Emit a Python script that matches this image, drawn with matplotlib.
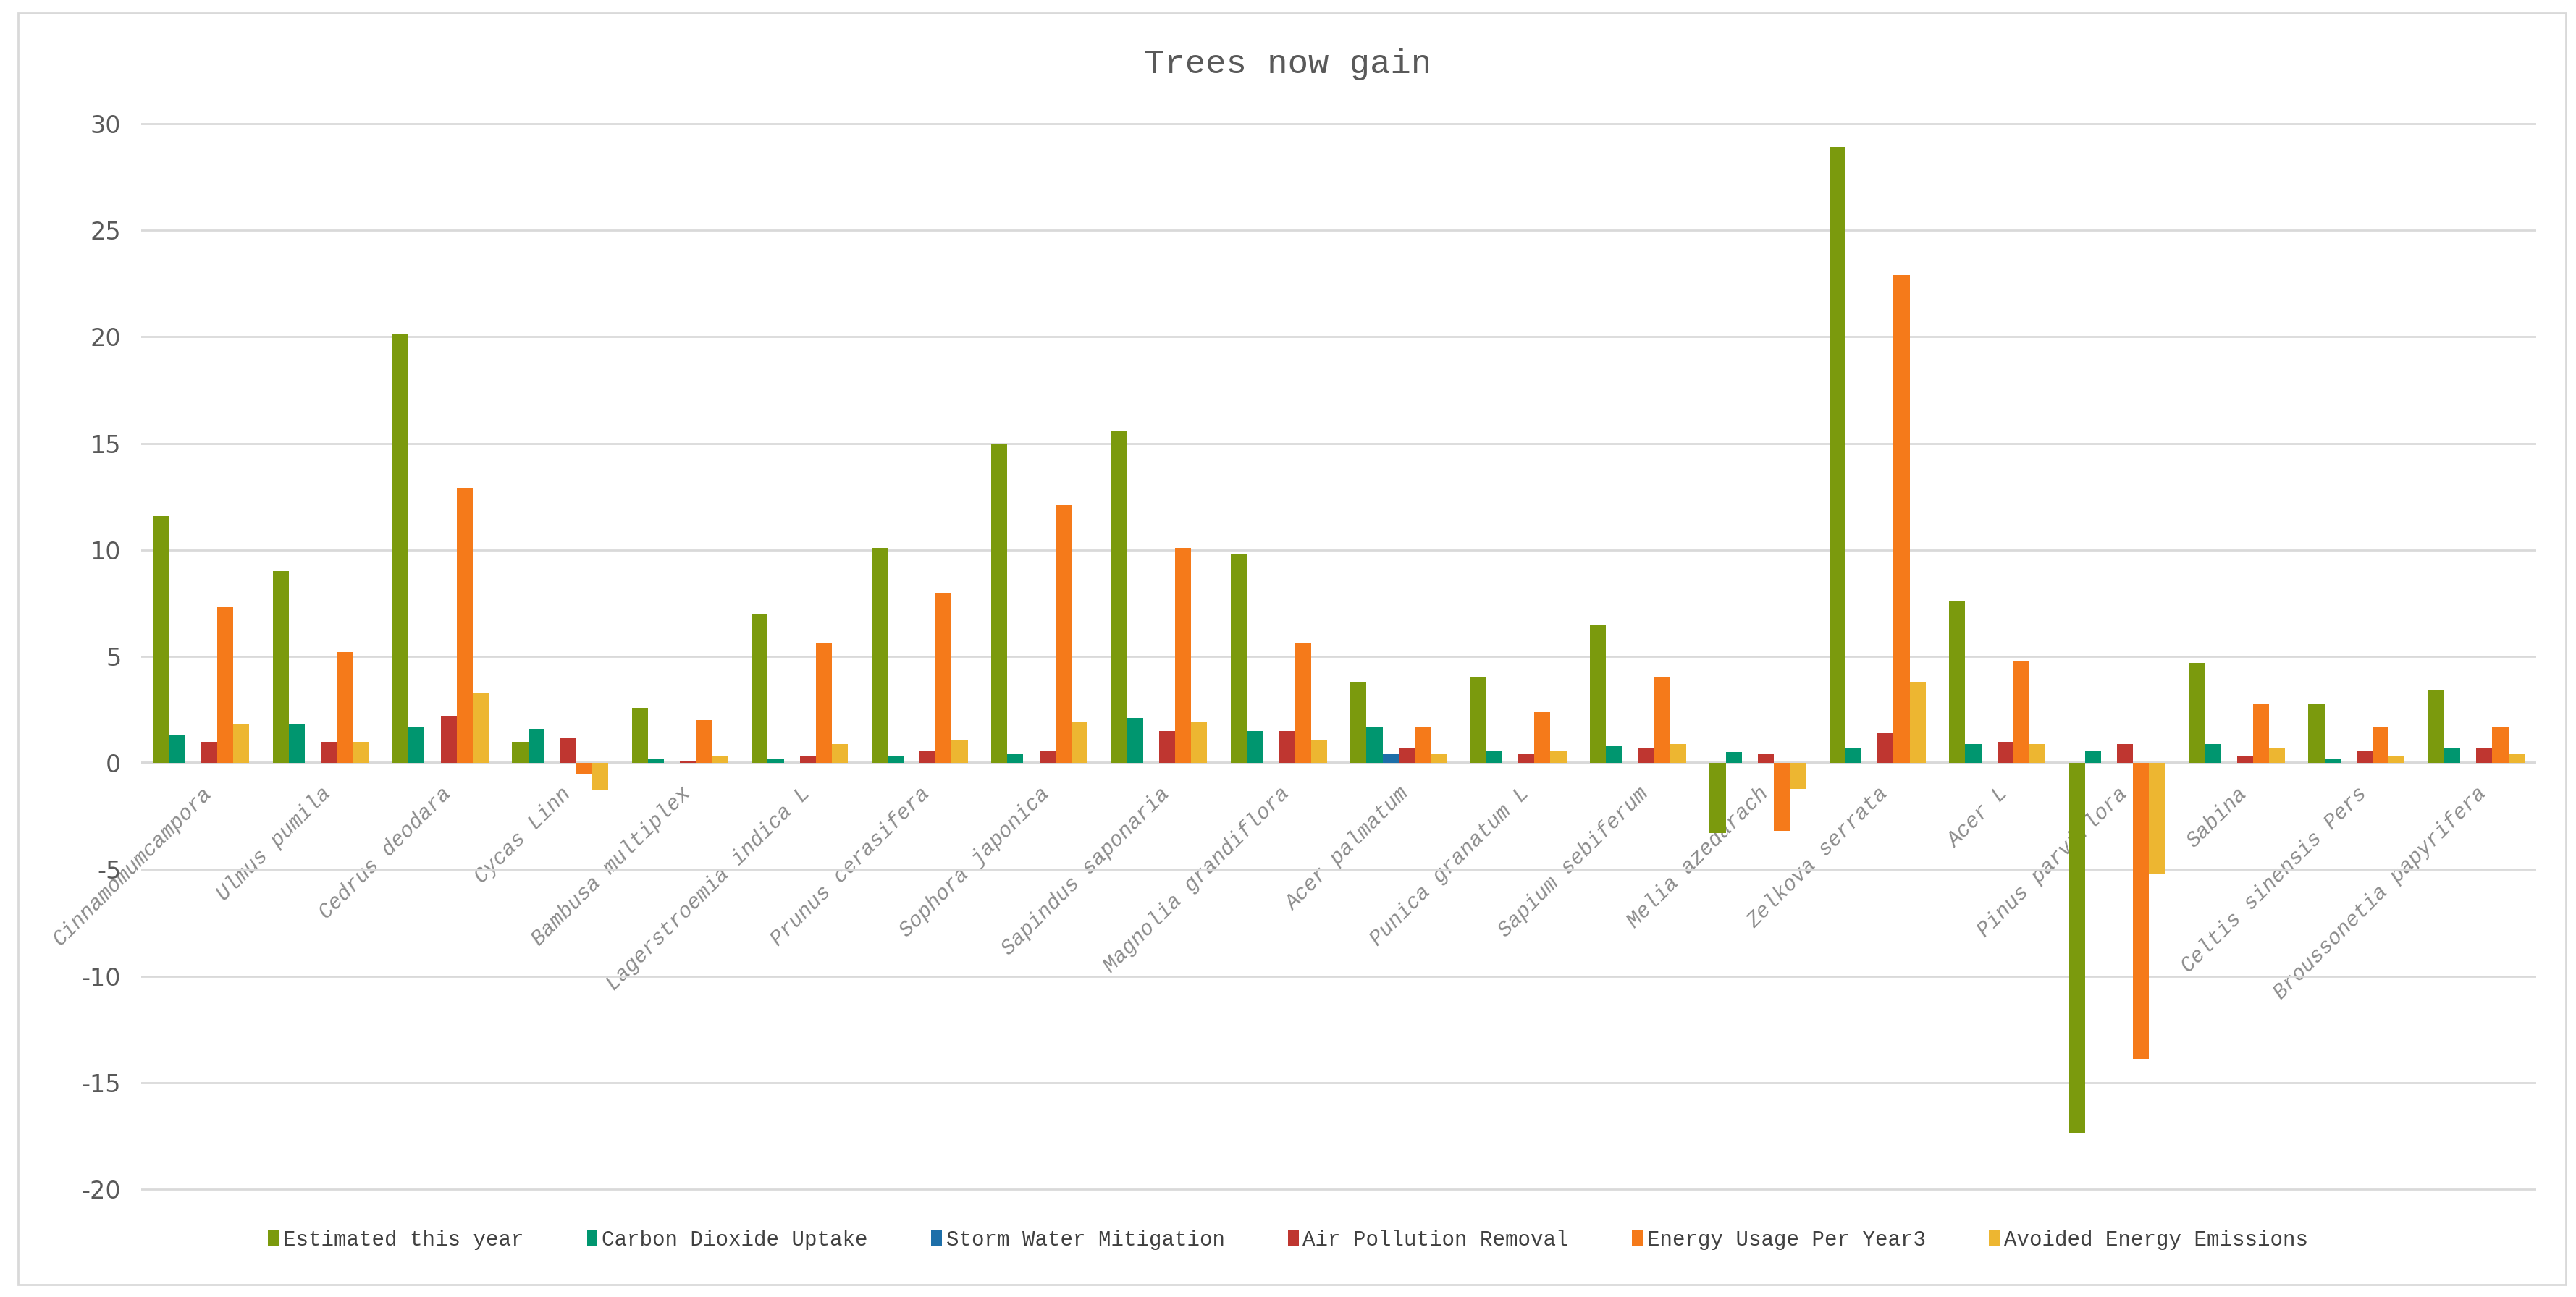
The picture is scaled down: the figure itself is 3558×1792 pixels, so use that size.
import matplotlib
matplotlib.use("Agg")
import matplotlib.pyplot as plt
import numpy as np
from matplotlib.patches import Rectangle

plt.rcParams["axes.unicode_minus"] = False

categories = ["Cinnamomumcampora", "Ulmus pumila", "Cedrus deodara", "Cycas Linn",
              "Bambusa multiplex", "Lagerstroemia indica L", "Prunus cerasifera",
              "Sophora japonica", "Sapindus saponaria", "Magnolia grandiflora",
              "Acer palmatum", "Punica granatum L", "Sapium sebiferum", "Melia azedarach",
              "Zelkova serrata", "Acer L", "Pinus parviflora", "Sabina",
              "Celtis sinensis Pers", "Broussonetia papyrifera"]

estimated = [11.6, 9.0, 20.1, 1.0, 2.6, 7.0, 10.1, 15.0, 15.6, 9.8,
             3.8, 4.0, 6.5, -3.3, 28.9, 7.6, -17.4, 4.7, 2.8, 3.4]
carbon = [1.3, 1.8, 1.7, 1.6, 0.2, 0.2, 0.3, 0.4, 2.1, 1.5,
          1.7, 0.6, 0.8, 0.5, 0.7, 0.9, 0.6, 0.9, 0.2, 0.7]
storm = [0.0, 0.0, 0.0, 0.0, 0.0, 0.0, 0.0, 0.0, 0.0, 0.0,
         0.4, 0.0, 0.0, 0.0, 0.0, 0.0, 0.0, 0.0, 0.0, 0.0]
air = [1.0, 1.0, 2.2, 1.2, 0.1, 0.3, 0.6, 0.6, 1.5, 1.5,
       0.7, 0.4, 0.7, 0.4, 1.4, 1.0, 0.9, 0.3, 0.6, 0.7]
energy = [7.3, 5.2, 12.9, -0.5, 2.0, 5.6, 8.0, 12.1, 10.1, 5.6,
          1.7, 2.4, 4.0, -3.2, 22.9, 4.8, -13.9, 2.8, 1.7, 1.7]
avoided = [1.8, 1.0, 3.3, -1.3, 0.3, 0.9, 1.1, 1.9, 1.9, 1.1,
           0.4, 0.6, 0.9, -1.2, 3.8, 0.9, -5.2, 0.7, 0.3, 0.4]

series_names = ["Estimated this year", "Carbon Dioxide Uptake", "Storm Water Mitigation",
                "Air Pollution Removal", "Energy Usage Per Year3", "Avoided Energy Emissions"]
series = [estimated, carbon, storm, air, energy, avoided]
colors = ["#7b9a0d", "#00966f", "#1d6fa9", "#bf3630", "#f57a1a", "#edb631"]

W, H, DPI = 3558, 1792, 200
fig = plt.figure(figsize=(W / DPI, H / DPI), dpi=DPI)
fig.patch.set_facecolor("white")

# outer border
fig.add_artist(Rectangle((25 / W, 1 - 1775 / H), (3544 - 25) / W, (1775 - 18) / H,
                         transform=fig.transFigure, fill=False, edgecolor="#d9d9d9",
                         linewidth=1.0))

ax = fig.add_axes([195 / W, 1 - 1657.7 / H, (3503 - 195) / W, (1657.7 - 156.3) / H])
x = np.arange(len(categories))
bw = 0.134
for i, (vals, c, name) in enumerate(zip(series, colors, series_names)):
    ax.bar(x + (i - 2.5) * bw, vals, width=bw, color=c, label=name, zorder=3)

ax.set_xlim(-0.5, len(categories) - 0.5)
ax.set_ylim(-20.5, 30.5)
ax.set_yticks(np.arange(-20, 31, 5))
ax.yaxis.grid(True, color="#d9d9d9", linewidth=1.0, zorder=0)
ax.axhline(0, color="#d9d9d9", linewidth=1.4, zorder=2)
for s in ax.spines.values():
    s.set_visible(False)
ax.spines["bottom"].set_position(("data", 0))
ax.tick_params(axis="both", length=0)
ax.tick_params(axis="y", pad=10, labelcolor="#595959")
for lab in ax.get_yticklabels():
    lab.set_family(["Liberation Sans Narrow", "DejaVu Sans"])
    lab.set_fontsize(12)

ax.set_xticks(x)
ax.set_xticklabels(categories, rotation=45, ha="right", rotation_mode="anchor",
                   family="Liberation Mono", style="italic", fontsize=10.5,
                   color="#8c8c8c")
ax.tick_params(axis="x", pad=10)

fig.text(0.5, 1 - 89 / H, "Trees now gain", ha="center", va="center",
         family="Liberation Mono", fontsize=17, color="#595959")

handles, labels = ax.get_legend_handles_labels()
leg = fig.legend(handles, labels, loc="center", bbox_to_anchor=(0.5, 1 - 1713 / H),
                 ncol=6, frameon=False, handlelength=0.5, handleheight=0.8,
                 handletextpad=0.2, columnspacing=3.0,
                 prop={"family": "Liberation Mono", "size": 10.5})
for t in leg.get_texts():
    t.set_color("#404040")

fig.savefig("out.png", dpi=DPI, facecolor="white")
